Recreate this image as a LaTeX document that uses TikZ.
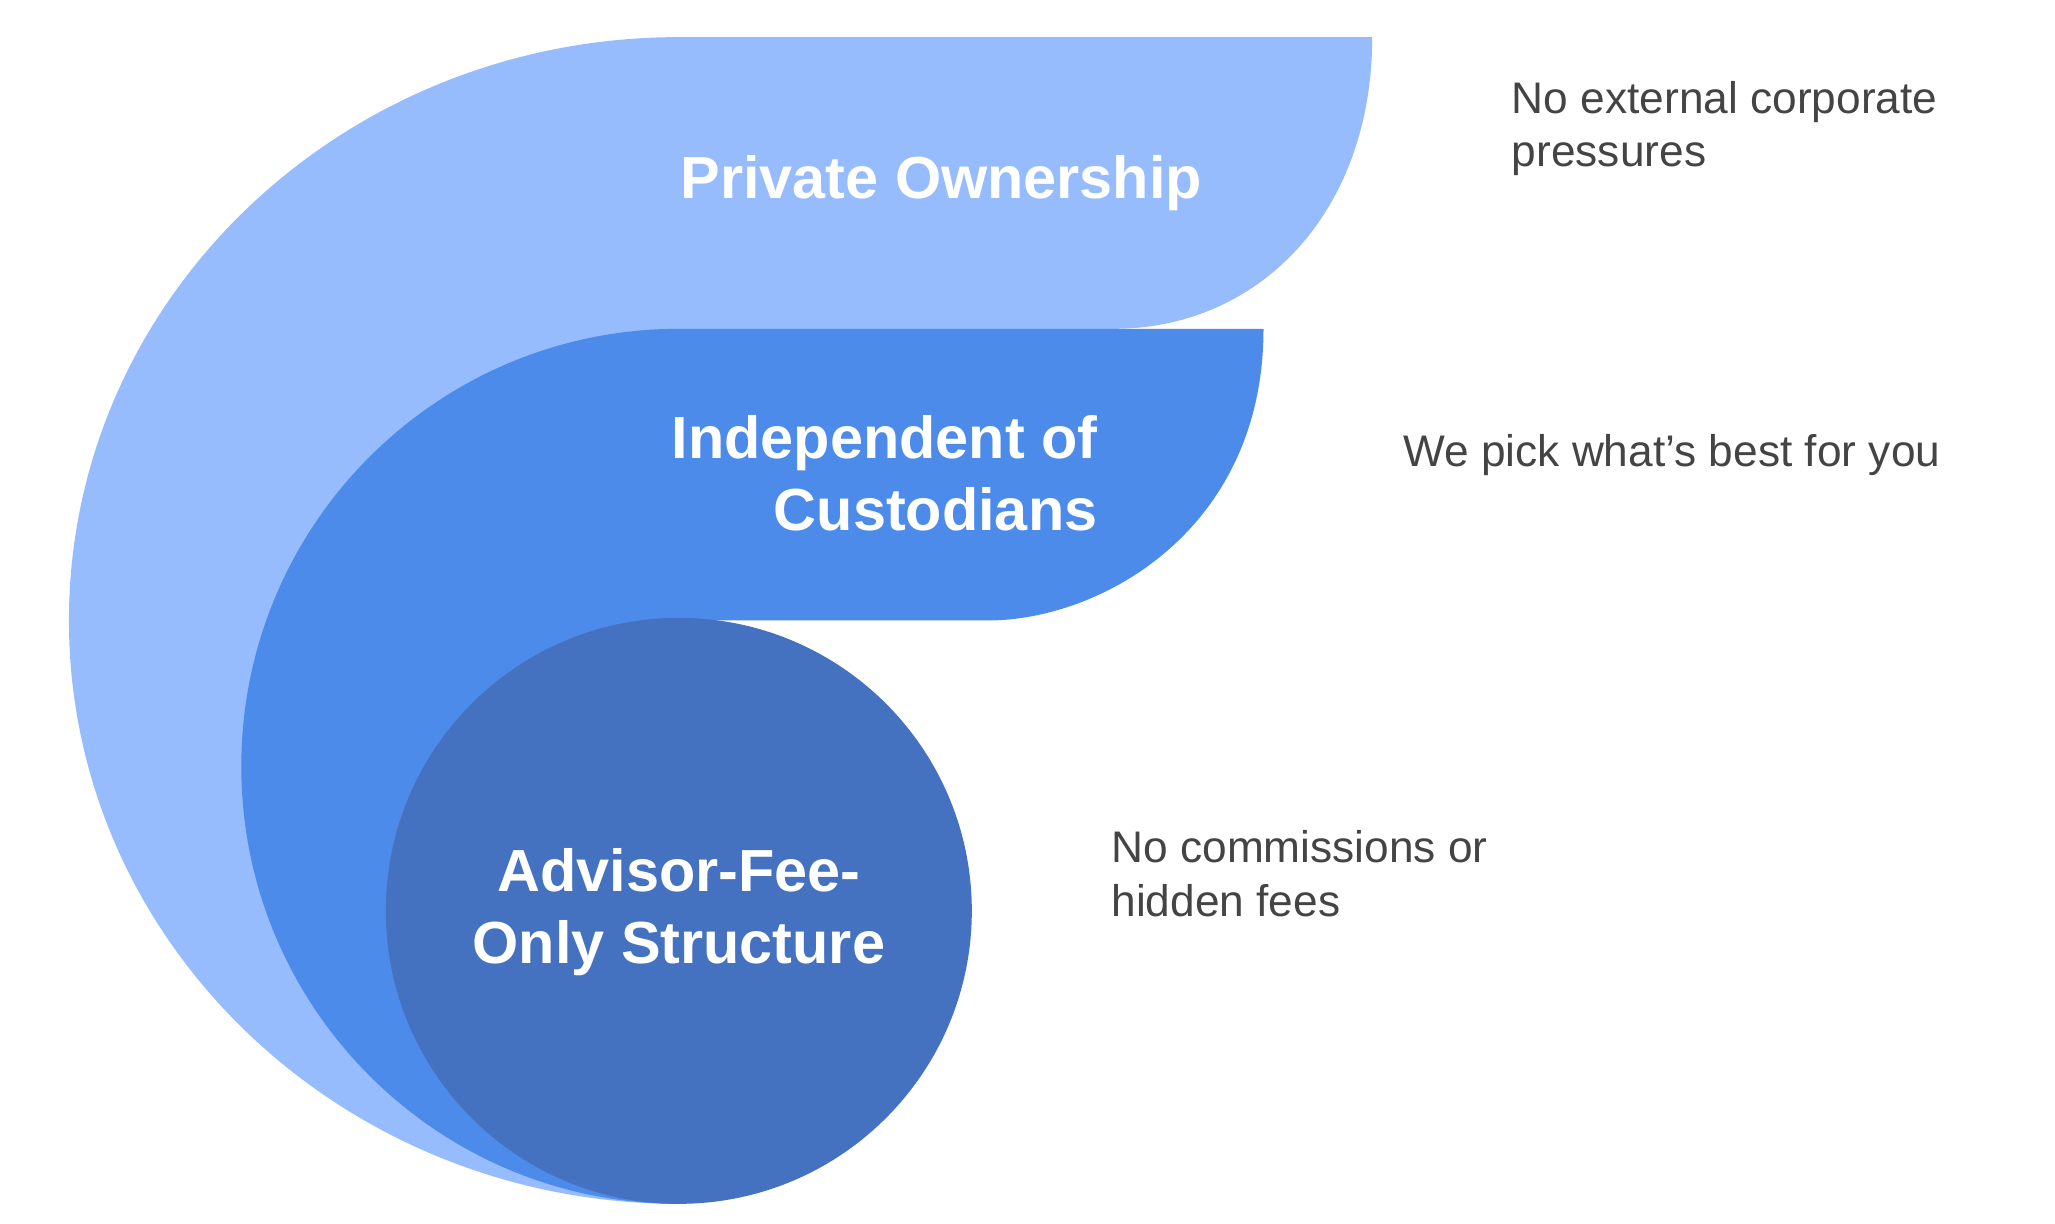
\documentclass[tikz,border=0pt]{standalone}
\usepackage{fontspec}
\setmainfont{Liberation Sans}
\definecolor{lightb}{HTML}{97BCFD}
\definecolor{midb}{HTML}{4D8BEB}
\definecolor{darkb}{HTML}{4472C0}
\definecolor{txtg}{HTML}{444444}
\begin{document}
\begin{tikzpicture}[x=0.02cm,y=-0.02cm,
  lbl/.style={text=white,font=\fontsize{25.5}{31}\selectfont\bfseries,align=center,inner sep=0pt},
  note/.style={text=txtg,font=\fontsize{19}{23}\selectfont,align=left,anchor=west,inner sep=0pt}]
\useasboundingbox (0,0) rectangle (1550,923);
\fill[lightb] (1035,28) .. controls (1035,160) and (950,248) .. (840,248) -- (512,248) -- (512,908)
  arc[start angle=90,end angle=270,x radius=460,y radius=440] -- cycle;
\fill[midb] (953,248) .. controls (953,400) and (830,468) .. (745,468) -- (512,468) -- (512,908)
  arc[start angle=90,end angle=270,radius=330] -- cycle;
\fill[darkb] (512,687) circle[radius=221];
\node[lbl] (po) at (710,138) {Private Ownership};
\node[lbl,align=right,anchor=east] (ic) at (828,357) {Independent of\\Custodians};
\node[lbl] (af) at (512,688) {Advisor-Fee-\\Only Structure};
\node[note] (n1) at (1140,97) {No external corporate\\pressures};
\node[note] (n2) at (1058,343) {We pick what\char"0027 s best for you};
\node[note] (n3) at (838,659) {No commissions or\\hidden fees};
\end{tikzpicture}
\end{document}
